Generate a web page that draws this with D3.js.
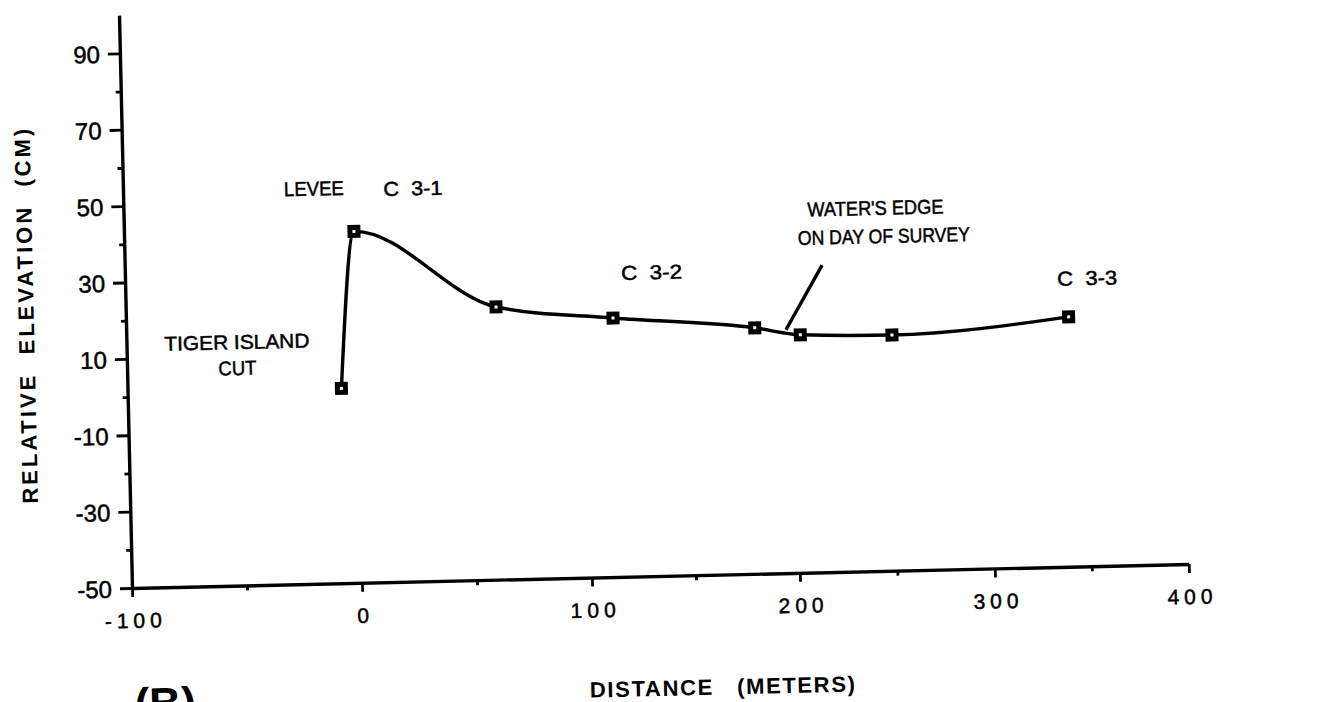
<!DOCTYPE html>
<html>
<head>
<meta charset="utf-8">
<script src="https://cdn.jsdelivr.net/npm/d3@7/dist/d3.min.js"></script>
<style>
  html, body { margin: 0; padding: 0; background: #fff; }
  svg { display: block; }
  text { font-family: "Liberation Sans", Arial, Helvetica, sans-serif; fill: #000; }
  .inked { stroke: #000; stroke-width: 0.5px; }
</style>
</head>
<body>
<svg id="chart" width="1317" height="702"></svg>
<script>
// ---- data ----
const distance  = [-7, 0, 61, 113, 181, 203, 250, 341];          // metres
const elevation = [1, 42, 21.4, 17.8, 14.4, 12.3, 11.7, 15.4];    // cm
const xMajorTicks = [-100, 0, 100, 200, 300, 400];
const xMinorTicks = [-50, 50, 150, 250, 350];
const yMajorTicks = [-50, -30, -10, 10, 30, 50, 70, 90];
const yMinorTicks = [-40, -20, 0, 20, 40, 60, 80];
const labelTexts  = ["LEVEE", "C  3-1", "TIGER ISLAND", "CUT", "C  3-2", "WATER'S EDGE", "ON DAY OF SURVEY", "C  3-3"];
const labelX      = [-17, 26, -52, -52, 132, 243, 247, 351];
const labelY      = [53.5, 53, 13.8, 7, 29.6, 45.1, 37.7, 25.5];
const leaderX     = [215, 196];
const leaderY     = [30.4, 13.7];

// ---- layout ----
const svg = d3.select("#chart");
svg.append("rect").attr("width", 1317).attr("height", 702).attr("fill", "#fff");

// the scanned page is slightly rotated; reproduce it
const g = svg.append("g").attr("transform", "translate(132,588) rotate(-1.3)");

// the scan's horizontal spacing is uneven; the scale follows its tick marks
const x = d3.scaleLinear().domain(xMajorTicks).range([0, 230, 460, 668, 863, 1057]);
const y = d3.scaleLinear().domain([-50, 100]).range([0, -573]);

const ink = "#000";
const fmt = d => String(d);

// X axis
const xAxis = g.append("g").call(
  d3.axisBottom(x).tickValues(xMajorTicks).tickSize(9).tickSizeOuter(0).tickFormat(fmt)
);
g.append("g").call(d3.axisBottom(x).tickValues(xMinorTicks).tickSize(5).tickSizeOuter(0).tickFormat(""))
  .select(".domain").remove();

// Y axis
const yAxis = g.append("g").call(
  d3.axisLeft(y).tickValues(yMajorTicks).tickSize(12).tickSizeOuter(0).tickFormat(fmt)
);
g.append("g").call(d3.axisLeft(y).tickValues(yMinorTicks).tickSize(5).tickSizeOuter(0).tickFormat(""))
  .select(".domain").remove();

g.selectAll(".domain").attr("stroke", ink).attr("stroke-width", 3.4);
g.selectAll(".tick line").attr("stroke", ink).attr("stroke-width", 2.8);

xAxis.selectAll(".tick text")
  .attr("class", "inked")
  .attr("y", 40).attr("dy", 0)
  .attr("dx", 2.5)
  .style("font-size", "21px")
  .style("letter-spacing", "5px")
  .attr("fill", ink);

yAxis.selectAll(".tick text")
  .attr("class", "inked")
  .attr("x", -20).attr("dy", "0.36em")
  .style("font-size", "24px")
  .attr("fill", ink);

g.selectAll("g").attr("font-family", null).attr("font-size", null);

// profile line
const pts = distance.map((d, i) => [d, elevation[i]]);
const line = d3.line().x(d => x(d[0])).y(d => y(d[1])).curve(d3.curveMonotoneX);
g.append("path").datum(pts)
  .attr("d", line)
  .attr("fill", "none")
  .attr("stroke", ink)
  .attr("stroke-width", 3.4)
  .attr("stroke-linejoin", "round");

// leader line for water's edge
g.append("line")
  .attr("x1", x(leaderX[0])).attr("y1", y(leaderY[0]))
  .attr("x2", x(leaderX[1])).attr("y2", y(leaderY[1]))
  .attr("stroke", ink).attr("stroke-width", 3.4);

// markers
const ms = 8;
g.selectAll("rect.mk").data(pts).enter().append("rect")
  .attr("class", "mk")
  .attr("x", d => x(d[0]) - ms / 2)
  .attr("y", d => y(d[1]) - ms / 2)
  .attr("width", ms).attr("height", ms)
  .attr("fill", "#fff").attr("stroke", ink).attr("stroke-width", 5);

// annotation labels
const labelWidth = {"LEVEE": 60, "C  3-1": 59, "TIGER ISLAND": 145, "CUT": 38, "C  3-2": 61,
                    "WATER'S EDGE": 136, "ON DAY OF SURVEY": 172, "C  3-3": 60};
g.selectAll("text.lab").data(labelTexts).enter().append("text")
  .attr("class", "lab inked")
  .attr("x", (d, i) => x(labelX[i]))
  .attr("y", (d, i) => y(labelY[i]))
  .attr("dy", "0.36em")
  .attr("text-anchor", "middle")
  .attr("textLength", d => labelWidth[d])
  .attr("lengthAdjust", "spacingAndGlyphs")
  .style("white-space", "pre")
  .style("font-size", "20px")
  .text(d => d);

// axis titles
g.append("text")
  .attr("transform", "translate(-100,-274) rotate(-90)")
  .attr("text-anchor", "middle")
  .attr("dy", "0.36em")
  .attr("textLength", 375)
  .attr("lengthAdjust", "spacing")
  .style("white-space", "pre")
  .style("font-size", "22px")
  .style("font-weight", "bold")
  .text("RELATIVE  ELEVATION  (CM)");

g.append("text")
  .attr("x", 588).attr("y", 112)
  .attr("text-anchor", "middle")
  .attr("dy", "0.36em")
  .attr("textLength", 265)
  .attr("lengthAdjust", "spacing")
  .style("white-space", "pre")
  .style("font-size", "22px")
  .style("font-weight", "bold")
  .text("DISTANCE   (METERS)");

g.append("text")
  .attr("x", 0).attr("y", 131)
  .style("font-size", "44px")
  .style("font-weight", "bold")
  .text("(B)");
</script>
</body>
</html>
